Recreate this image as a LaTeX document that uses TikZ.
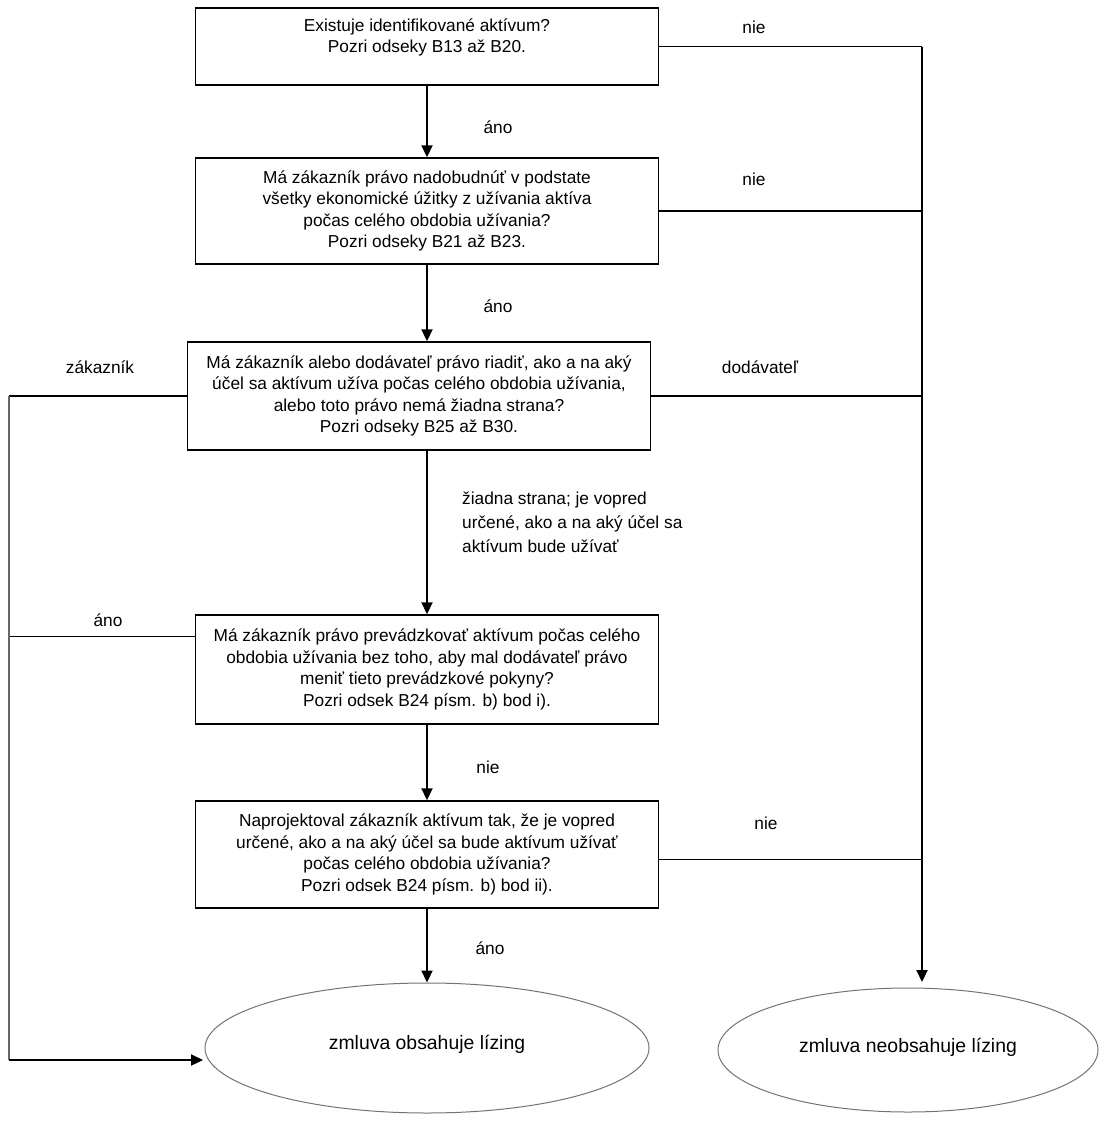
\documentclass[tikz,border=0pt]{standalone}
\usepackage{fontspec}
\setmainfont{Liberation Sans}
\usetikzlibrary{arrows.meta,shapes.geometric}
\begin{document}
\begin{tikzpicture}[x=1pt,y=-1pt,
  font=\fontsize{17.3}{21.5}\selectfont,
  box/.style={draw=black, line width=1.5pt, align=center, inner sep=0pt,
    minimum width=463pt},
  ell/.style={draw=black!55, line width=1pt, ellipse, inner sep=0pt,
    font=\fontsize{19.4}{23}\selectfont},
  conn/.style={line width=1.4pt},
  ltrunk/.style={draw=black!60, line width=1.3pt},
  arr/.style={line width=2.2pt, -{Triangle[length=12pt,width=11pt]}},
  lbl/.style={inner sep=0pt}]
\useasboundingbox (0,0) rectangle (1104,1122);

% boxes
\node[box, minimum height=77pt] (b1) at (427,46.5)
  {Existuje identifikované aktívum?\\Pozri odseky B13 až B20.\\ ~};
\node[box, minimum height=106pt] (b2) at (427,211)
  {Má zákazník právo nadobudnúť v podstate\\všetky ekonomické úžitky z užívania aktíva\\počas celého obdobia užívania?\\Pozri odseky B21 až B23.};
\node[box, minimum height=108pt] (b3) at (419,396)
  {Má zákazník alebo dodávateľ právo riadiť, ako a na aký\\účel sa aktívum užíva počas celého obdobia užívania,\\alebo toto právo nemá žiadna strana?\\Pozri odseky B25 až B30.};
\node[box, minimum height=109pt] (b4) at (427,669.5)
  {Má zákazník právo prevádzkovať aktívum počas celého\\obdobia užívania bez toho, aby mal dodávateľ právo\\meniť tieto prevádzkové pokyny?\\Pozri odsek B24 písm. b) bod i).};
\node[box, minimum height=107pt] (b5) at (427,854.5)
  {Naprojektoval zákazník aktívum tak, že je vopred\\určené, ako a na aký účel sa bude aktívum užívať\\počas celého obdobia užívania?\\Pozri odsek B24 písm. b) bod ii).};

% ellipses
\node[ell, minimum width=444pt, minimum height=130pt] (e1) at (427,1048)
  {\raisebox{11pt}{zmluva obsahuje lízing}};
\node[ell, minimum width=380pt, minimum height=124pt] (e2) at (908,1050)
  {\raisebox{10pt}{zmluva neobsahuje lízing}};

% trunk coordinates
\coordinate (rt) at (922,47);
\coordinate (rb) at (922,982);
\coordinate (lt) at (9,396);
\coordinate (lb) at (9,1060);
\coordinate (le) at (203,1060);
\coordinate (b4l) at ([yshift=-22pt]b4.north west);

% main vertical arrows
\draw[arr] (b1.south) -- (b2.north);
\draw[arr] (b2.south) -- (b2.south |- b3.north);
\draw[arr] (b2.south |- b3.south) -- (b4.north);
\draw[arr] (b4.south) -- (b5.north);
\draw[arr] (b5.south) -- (e1.north);

% right trunk
\draw[conn] (b1.east) -- (b1.east -| rt);
\draw[conn] (b2.east) -- (b2.east -| rt);
\draw[conn] (b3.east) -- (b3.east -| rt);
\draw[conn] ([yshift=-5pt]b5.east) -- ([yshift=-5pt]b5.east -| rt);
\draw[arr] (b1.east -| rt) -- (rb);

% left trunk
\draw[conn] (b3.west) -- (lt);
\draw[conn] (b4l) -- (b4l -| lt);
\draw[ltrunk] (lt) -- (lb);
\draw[arr] (lb) -- (le);

% labels
\node[lbl] (l1) at (754,27) {nie};
\node[lbl] (l2) at (498,127) {áno};
\node[lbl] (l3) at (754,179) {nie};
\node[lbl] (l4) at (498,306) {áno};
\node[lbl] (l5) at (100,367) {zákazník};
\node[lbl] (l6) at (760,367) {dodávateľ};
\node[lbl, anchor=north west, align=left, font=\fontsize{17.3}{24}\selectfont] (l7) at (462,492)
  {žiadna strana; je vopred\\určené, ako a na aký účel sa\\aktívum bude užívať};
\node[lbl] (l8) at (108,620) {áno};
\node[lbl] (l9) at (488,767) {nie};
\node[lbl] (l10) at (766,823) {nie};
\node[lbl] (l11) at (490,948) {áno};
\end{tikzpicture}
\end{document}
